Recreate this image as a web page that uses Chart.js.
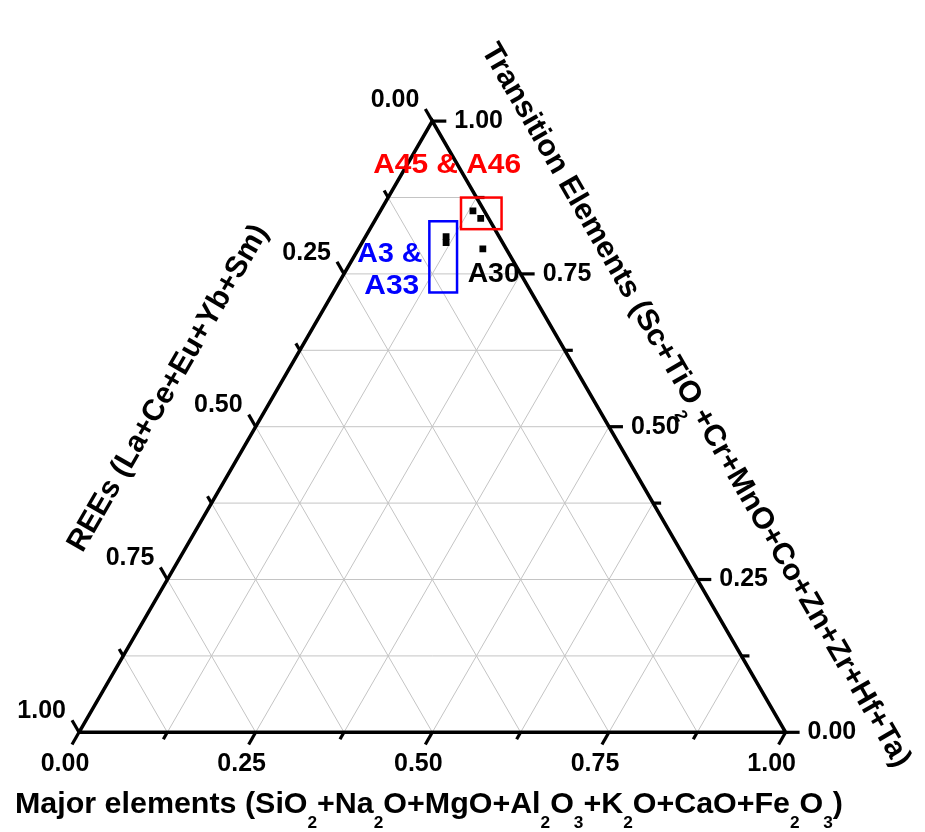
<!DOCTYPE html>
<html>
<head>
<meta charset="utf-8">
<style>
  html, body { margin: 0; padding: 0; background: #fff; }
  #wrap { width: 925px; height: 832px; }
</style>
<script src="https://cdn.jsdelivr.net/npm/chart.js@4.4.1/dist/chart.umd.min.js"></script>
</head>
<body>
<div id="wrap"><canvas id="ternary"></canvas></div>
<script>
// sample compositions (fractions of major / REE / transition elements)
const sampleNames = ["A3", "A33", "A30", "A45", "A46"];
const majorValues = [0.114, 0.119, 0.176, 0.131, 0.148];
const reeValues   = [0.075, 0.080, 0.033, 0.016, 0.011];
const transValues = [0.811, 0.801, 0.791, 0.853, 0.841];

const tickValues = [0, 0.25, 0.5, 0.75, 1];
const tickLabels = ["0.00", "0.25", "0.50", "0.75", "1.00"];
const minorTicks = [0.125, 0.375, 0.625, 0.875];
const gridValues = [0.125, 0.25, 0.375, 0.5, 0.625, 0.75, 0.875];

const bottomTitle = "Major elements (SiO_2+Na_2O+MgO+Al_2O_3+K_2O+CaO+Fe_2O_3)";
const leftTitle = "REEs (La+Ce+Eu+Yb+Sm)";
const rightTitle = "Transition Elements (Sc+TiO_2+Cr+MnO+Co+Zn+Zr+Hf+Ta)";

// group labels and boxes, in plot x/y units
const groupLabels = [
  { text: "A45 & A46", x: 0.521, y: 0.805, color: "#ff0000", width: 148 },
  { text: "A3 &", x: 0.4398, y: 0.678, color: "#0000ff", width: 65 },
  { text: "A33", x: 0.4426, y: 0.633, color: "#0000ff", width: 55 },
  { text: "A30", x: 0.5868, y: 0.650, color: "#000000", width: 52 },
];
const groupBoxes = [
  { x0: 0.5406, x1: 0.5980, y0: 0.7129, y1: 0.7577, color: "#ff0000" },
  { x0: 0.4958, x1: 0.5350, y0: 0.6232, y1: 0.7241, color: "#0000ff" },
];

const H = Math.sqrt(3) / 2;
const FONT = '"Liberation Sans", Arial, sans-serif';
// major = 1 bottom right, ree = 1 bottom left, trans = 1 apex
const toXY = (m, t) => ({ x: m + t / 2, y: t * H });

const gridSets = [];
gridValues.forEach((g) => {
  gridSets.push([toXY(0, g), toXY(1 - g, g)]);       // constant transition
  gridSets.push([toXY(g, 0), toXY(g, 1 - g)]);       // constant major
  gridSets.push([toXY(1 - g, 0), toXY(0, 1 - g)]);   // constant REE
});

const datasets = gridSets.map((pts) => ({
  data: pts,
  showLine: true,
  borderColor: "#c4c4c4",
  borderWidth: 1,
  pointRadius: 0,
  order: 3,
}));

datasets.push({
  data: [toXY(0, 0), toXY(1, 0), toXY(0, 1), toXY(0, 0)],
  showLine: true,
  borderColor: "#000",
  borderWidth: 3.5,
  pointRadius: 0,
  order: 2,
});

datasets.push({
  label: "samples",
  data: sampleNames.map((n, i) => toXY(majorValues[i], transValues[i])),
  pointStyle: "rect",
  pointRadius: 4.8,
  backgroundColor: "#000",
  borderWidth: 0,
  order: 1,
});

function splitSubs(str) {
  return str.split(/_(\d)/).map((t, i) => ({ t: t, sub: i % 2 === 1 }));
}

// draws text with subscripts, squeezed/stretched to width if given
function drawRich(ctx, str, x, y, size, width, align) {
  const segs = splitSubs(str);
  const subSize = Math.round(size * 0.58);
  let natural = 0;
  segs.forEach((s) => {
    ctx.font = `bold ${s.sub ? subSize : size}px ${FONT}`;
    natural += ctx.measureText(s.t).width;
  });
  const k = width ? width / natural : 1;
  ctx.save();
  ctx.translate(x, y);
  ctx.scale(k, 1);
  let cx = align === "center" ? -natural / 2 : 0;
  ctx.textAlign = "left";
  ctx.textBaseline = "alphabetic";
  segs.forEach((s) => {
    ctx.font = `bold ${s.sub ? subSize : size}px ${FONT}`;
    ctx.fillText(s.t, cx, s.sub ? size * 0.5 : 0);
    cx += ctx.measureText(s.t).width;
  });
  ctx.restore();
}

const ternaryAxes = {
  id: "ternaryAxes",
  afterDatasetsDraw(chart) {
    const ctx = chart.ctx;
    const sx = chart.scales.x;
    const sy = chart.scales.y;
    const px = (m, t) => {
      const p = toXY(m, t);
      return [sx.getPixelForValue(p.x), sy.getPixelForValue(p.y)];
    };

    ctx.save();
    ctx.strokeStyle = "#000";
    ctx.fillStyle = "#000";
    ctx.lineWidth = 3.2;
    ctx.lineCap = "butt";

    const tick = (v, len) => {
      const out = [];
      // bottom (major)
      let [x, y] = px(v, 0);
      out.push({ side: "b", x0: x, y0: y, x1: x - 0.5 * len, y1: y + H * len });
      // left (REE = v)
      [x, y] = px(0, 1 - v);
      out.push({ side: "l", x0: x, y0: y, x1: x - 0.5 * len, y1: y - H * len });
      // right (transition = v)
      [x, y] = px(1 - v, v);
      out.push({ side: "r", x0: x, y0: y, x1: x + len, y1: y });
      return out;
    };

    minorTicks.forEach((v) => {
      tick(v, 8).forEach((t) => {
        ctx.beginPath();
        ctx.moveTo(t.x0, t.y0);
        ctx.lineTo(t.x1, t.y1);
        ctx.stroke();
      });
    });

    ctx.font = `bold 25px ${FONT}`;
    tickValues.forEach((v, i) => {
      tick(v, 14).forEach((t) => {
        ctx.beginPath();
        ctx.moveTo(t.x0, t.y0);
        ctx.lineTo(t.x1, t.y1);
        ctx.stroke();
        if (t.side === "b") {
          ctx.textAlign = "center";
          ctx.textBaseline = "middle";
          ctx.fillText(tickLabels[i], t.x1 - 7, t.y1 + 20);
        } else if (t.side === "l") {
          ctx.textAlign = "right";
          ctx.textBaseline = "middle";
          ctx.fillText(tickLabels[i], t.x1 - 6, t.y1 - 9);
        } else {
          ctx.textAlign = "left";
          ctx.textBaseline = "middle";
          ctx.fillText(tickLabels[i], t.x1 + 8, t.y1);
        }
      });
    });

    // axis titles
    drawRich(ctx, bottomTitle, 15, 813, 30, 828, "left");

    ctx.save();
    ctx.translate(166, 387);
    ctx.rotate(-Math.PI / 3);
    drawRich(ctx, leftTitle, 0, 11, 30, 372, "center");
    ctx.restore();

    ctx.save();
    ctx.translate(698, 404);
    ctx.rotate(Math.PI / 3);
    drawRich(ctx, rightTitle, 0, 11, 30, 830, "center");
    ctx.restore();

    // group boxes and labels
    groupBoxes.forEach((b) => {
      const x0 = sx.getPixelForValue(b.x0);
      const x1 = sx.getPixelForValue(b.x1);
      const y0 = sy.getPixelForValue(b.y1);
      const y1 = sy.getPixelForValue(b.y0);
      ctx.strokeStyle = b.color;
      ctx.lineWidth = 2.5;
      ctx.strokeRect(x0, y0, x1 - x0, y1 - y0);
    });

    groupLabels.forEach((g) => {
      ctx.fillStyle = g.color;
      ctx.save();
      ctx.font = `bold 27px ${FONT}`;
      const w = ctx.measureText(g.text).width;
      ctx.translate(sx.getPixelForValue(g.x), sy.getPixelForValue(g.y));
      ctx.scale(g.width / w, 1);
      ctx.textAlign = "center";
      ctx.textBaseline = "middle";
      ctx.fillText(g.text, 0, 1);
      ctx.restore();
    });

    ctx.restore();
  },
};

new Chart(document.getElementById("ternary"), {
  type: "scatter",
  data: { datasets: datasets },
  options: {
    responsive: true,
    maintainAspectRatio: false,
    animation: false,
    layout: { padding: 0 },
    plugins: {
      legend: { display: false },
      tooltip: { enabled: false },
    },
    scales: {
      x: { type: "linear", min: -0.10504, max: 1.19048, display: false },
      y: { type: "linear", min: -0.13445, max: 1.03081, display: false },
    },
  },
  plugins: [ternaryAxes],
});
</script>
</body>
</html>
